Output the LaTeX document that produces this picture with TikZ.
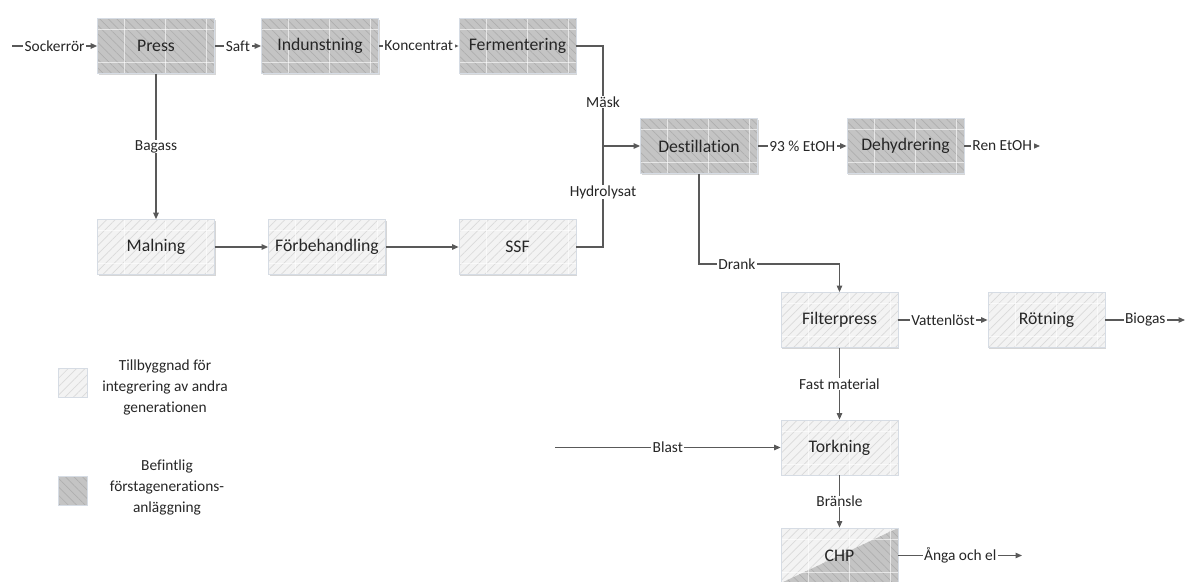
\documentclass[tikz,border=0pt]{standalone}
\usepackage{fontspec}
\setmainfont{Carlito}[Ligatures=CommonOff]
\usetikzlibrary{arrows.meta,patterns.meta,shadows}
\definecolor{lnc}{HTML}{595959}
\definecolor{txt}{HTML}{262626}
\definecolor{darkfill}{HTML}{C4C4C4}
\definecolor{darkhatch}{HTML}{AFAFAF}
\definecolor{lightfill}{HTML}{F3F3F3}
\definecolor{lighthatch}{HTML}{DADADA}
\definecolor{edgec}{HTML}{D6DCE4}
\newcommand{\mygridlines}{%
  \foreach \dx in {27,68,109}
    \draw[white,opacity=.6,line width=.6pt]
      ([xshift=\dx pt]path picture bounding box.north west) --
      ([xshift=\dx pt]path picture bounding box.south west);
  \draw[white,opacity=.6,line width=.6pt]
      ([yshift=-11pt]path picture bounding box.north west) --
      ([yshift=-11pt]path picture bounding box.north east);
  \draw[white,opacity=.6,line width=.6pt]
      ([yshift=11pt]path picture bounding box.south west) --
      ([yshift=11pt]path picture bounding box.south east);
}
\tikzset{
  procbox/.style={draw=edgec, line width=0.8pt, minimum width=117pt,
    minimum height=55pt, inner sep=0pt, text=txt,
    font=\fontsize{17.7}{21}\selectfont,
    drop shadow={shadow xshift=1pt,shadow yshift=-1.2pt,fill=black!16,opacity=1}},
  oldbox/.style={procbox, preaction={fill=darkfill},
    pattern={Lines[angle=-45,distance=6pt,line width=0.7pt]},
    pattern color=darkhatch, path picture={\mygridlines}},
  newbox/.style={procbox, preaction={fill=lightfill},
    pattern={Lines[angle=45,distance=6pt,line width=0.7pt]},
    pattern color=lighthatch, path picture={\mygridlines}},
  chpbox/.style={procbox, preaction={fill=lightfill},
    pattern={Lines[angle=45,distance=6pt,line width=0.7pt]},
    pattern color=lighthatch,
    path picture={
      \fill[darkfill] (path picture bounding box.south west) --
        (path picture bounding box.north east) --
        (path picture bounding box.south east) -- cycle;
      \path[pattern={Lines[angle=-45,distance=6pt,line width=0.7pt]},
        pattern color=darkhatch] (path picture bounding box.south west) --
        (path picture bounding box.north east) --
        (path picture bounding box.south east) -- cycle;
      \mygridlines}},
  legold/.style={draw=edgec, line width=0.8pt, minimum size=29pt, inner sep=0pt,
    preaction={fill=darkfill},
    pattern={Lines[angle=-45,distance=6pt,line width=0.7pt]}, pattern color=darkhatch},
  legnew/.style={draw=edgec, line width=0.8pt, minimum size=29pt, inner sep=0pt,
    preaction={fill=lightfill},
    pattern={Lines[angle=45,distance=6pt,line width=0.7pt]}, pattern color=lighthatch},
  legtxt/.style={align=center, text=txt, font=\fontsize{15.4}{21}\selectfont},
  lbl/.style={fill=white, inner xsep=1.5pt, inner ysep=0.5pt, text=txt,
    font=\fontsize{15.4}{18}\selectfont},
  conn/.style={draw=lnc, line width=1.1pt},
  arr/.style={conn, -{Triangle[length=6.5pt,width=5.5pt]}}
}
\begin{document}
\begin{tikzpicture}[x=1pt,y=-1pt]
\useasboundingbox (0,0) rectangle (1186,581);
% boxes
\node[oldbox] (press) at (156,46) {Press};
\node[oldbox] (indu) at (320,46) {Indunstning};
\node[oldbox] (ferm) at (517.5,46) {Fermentering};
\node[newbox] (maln) at (156,247) {Malning};
\node[newbox] (forb) at (327,247) {Förbehandling};
\node[newbox] (ssf) at (517.5,247) {SSF};
\node[oldbox] (dest) at (699,146) {Destillation};
\node[oldbox] (dehy) at (905.5,146) {Dehydrering};
\node[newbox] (filt) at (839.5,320) {Filterpress};
\node[newbox] (rotn) at (1046.5,320) {Rötning};
\node[newbox] (tork) at (839.5,447.5) {Torkning};
\node[chpbox] (chp) at (839.5,555.5) {CHP};
% free ends
\coordinate (sin) at (12,46);
\coordinate (j) at (603,146);
\coordinate (renout) at (1040,146);
\coordinate (bioout) at (1185,320);
\coordinate (blin) at (555,447.5);
\coordinate (angout) at (1022,555.5);
% connectors
\draw[arr] (sin) -- node[lbl]{Sockerrör} (press.west);
\draw[arr] (press.east) -- node[lbl]{Saft} (indu.west);
\draw[arr] (indu.east) -- node[lbl]{Koncentrat} (ferm.west);
\draw[arr] (press.south) -- node[lbl]{Bagass} (maln.north);
\draw[arr] (maln.east) -- (forb.west);
\draw[arr] (forb.east) -- (ssf.west);
\draw[conn] (ferm.east) -- (j |- ferm.east) -- node[lbl,pos=0.56]{Mäsk} (j);
\draw[conn] (ssf.east) -- (j |- ssf.east) -- node[lbl,pos=0.545]{Hydrolysat} (j);
\draw[arr] (j) -- (dest.west);
\draw[arr] (dest.east) -- node[lbl]{93 \% EtOH} (dehy.west);
\draw[arr] (dehy.east) -- node[lbl]{Ren EtOH} (renout);
\draw[arr] (dest.south) -- (dest.south |- 0,264) -- node[lbl,pos=0.27]{Drank} (filt.north |- 0,264) -- (filt.north);
\draw[arr] (filt.east) -- node[lbl]{Vattenlöst} (rotn.west);
\draw[arr] (rotn.east) -- node[lbl]{Biogas} (bioout);
\draw[arr] (filt.south) -- node[lbl]{Fast material} (tork.north);
\draw[arr] (blin) -- node[lbl]{Blast} (tork.west);
\draw[arr] (tork.south) -- node[lbl]{Bränsle} (chp.north);
\draw[arr] (chp.east) -- node[lbl]{Ånga och el} (angout);
% legend
\node[legnew] (leg1) at (72.5,382.5) {};
\node[legtxt] (leg1t) at (165,387.5) {Tillbyggnad för\\integrering av andra\\generationen};
\node[legold] (leg2) at (72.5,491) {};
\node[legtxt] (leg2t) at (167,487.5) {Befintlig\\förstagenerations-\\anläggning};
\end{tikzpicture}
\end{document}
